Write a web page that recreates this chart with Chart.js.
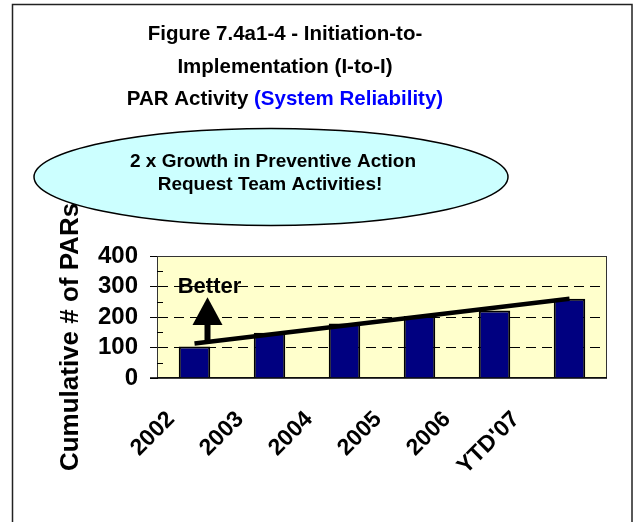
<!DOCTYPE html>
<html>
<head>
<meta charset="utf-8">
<script src="https://cdn.jsdelivr.net/npm/chart.js@4.4.0/dist/chart.umd.min.js"></script>
<style>
  body { margin: 0; background: #fff; }
  canvas { display: block; }
</style>
</head>
<body>
<canvas id="parChart" width="634" height="522"></canvas>
<script>
// data
var years = ['2002', '2003', '2004', '2005', '2006', "YTD'07"];
var parCounts = [103, 148, 179, 203, 221, 260];
var trendLine = [113, null, null, null, null, 260];
var yTicks = [0, 100, 200, 300, 400];

var titleLines = [
  [['Figure 7.4a1-4 - Initiation-to-', '#000']],
  [['Implementation (I-to-I)', '#000']],
  [['PAR Activity ', '#000'], ['(System Reliability)', '#0000ff']]
];
var calloutLines = ['2 x Growth in Preventive Action', 'Request Team Activities!'];
var yTitle = 'Cumulative # of PARs';
var betterText = 'Better';

var FONT = 'Liberation Sans, Arial, sans-serif';

// backgrounds, frames and the hand-drawn extras
var decorations = {
  id: 'decorations',
  beforeDraw: function(chart) {
    var c = chart.ctx, a = chart.chartArea;
    c.save();
    c.fillStyle = '#fff';
    c.fillRect(0, 0, chart.width, chart.height);
    c.strokeStyle = '#222';
    c.lineWidth = 1.5;
    c.strokeRect(12.5, 4.5, 619.5, 540);
    c.fillStyle = '#ffffcc';
    c.fillRect(a.left, a.top, a.right - a.left, a.bottom - a.top);

    // y axis title
    c.translate(71, 337);
    c.rotate(-Math.PI / 2);
    c.font = 'bold 26px ' + FONT;
    c.fillStyle = '#000';
    c.textAlign = 'center';
    c.textBaseline = 'middle';
    c.fillText(yTitle, 0, 0);
    c.restore();
  },
  beforeDatasetsDraw: function(chart) {
    var c = chart.ctx, a = chart.chartArea, y = chart.scales.y;
    c.save();
    c.strokeStyle = '#333';
    c.lineWidth = 1;
    c.strokeRect(a.left + 0.5, a.top + 0.5, a.right - a.left - 1, a.bottom - a.top - 1);
    // minor ticks inside the plot
    c.strokeStyle = '#000';
    for (var v = 50; v < 400; v += 100) {
      var py = Math.round(y.getPixelForValue(v)) + 0.5;
      c.beginPath();
      c.moveTo(a.left, py);
      c.lineTo(a.left + 6, py);
      c.stroke();
    }
    c.beginPath();
    c.lineWidth = 1.5;
    c.moveTo(a.left - 7, a.bottom);
    c.lineTo(a.right, a.bottom);
    c.stroke();
    c.restore();
  },
  afterDatasetsDraw: function(chart) {
    var c = chart.ctx, x = chart.scales.x, y = chart.scales.y;
    var cx = x.getPixelForValue(0) + 13;
    c.save();
    c.fillStyle = '#000';
    // arrow pointing up
    c.beginPath();
    c.moveTo(cx, y.getPixelForValue(265));
    c.lineTo(cx + 15, y.getPixelForValue(174));
    c.lineTo(cx - 15, y.getPixelForValue(174));
    c.closePath();
    c.fill();
    c.fillRect(cx - 3, y.getPixelForValue(175), 6, y.getPixelForValue(115) - y.getPixelForValue(175));
    c.font = 'bold 22px ' + FONT;
    c.textAlign = 'center';
    c.textBaseline = 'alphabetic';
    c.fillText(betterText, cx + 2, y.getPixelForValue(280));
    c.restore();
  },
  afterDraw: function(chart) {
    var c = chart.ctx;
    c.save();
    // callout ellipse
    c.beginPath();
    c.ellipse(271, 177, 237, 48.5, 0, 0, Math.PI * 2);
    c.fillStyle = '#ccffff';
    c.fill();
    c.strokeStyle = '#000';
    c.lineWidth = 1.5;
    c.stroke();
    c.fillStyle = '#000';
    c.font = 'bold 19px ' + FONT;
    c.textAlign = 'center';
    c.textBaseline = 'alphabetic';
    c.fillText(calloutLines[0], 273, 167);
    c.fillText(calloutLines[1], 270, 190);

    // title, last line has two colours
    c.font = 'bold 20.5px ' + FONT;
    c.textAlign = 'left';
    var base = [40, 72.5, 104.5];
    for (var i = 0; i < titleLines.length; i++) {
      var parts = titleLines[i], w = 0;
      for (var j = 0; j < parts.length; j++) w += c.measureText(parts[j][0]).width;
      var px = 285 - w / 2;
      for (var j = 0; j < parts.length; j++) {
        c.fillStyle = parts[j][1];
        c.fillText(parts[j][0], px, base[i]);
        px += c.measureText(parts[j][0]).width;
      }
    }
    c.restore();
  }
};

var ctx = document.getElementById('parChart').getContext('2d');
var parChart = new Chart(ctx, {
  type: 'bar',
  data: {
    labels: years,
    datasets: [{
      label: 'Cumulative PARs',
      data: parCounts,
      backgroundColor: '#000080',
      borderColor: '#000',
      borderWidth: 2,
      barPercentage: 0.42,
      categoryPercentage: 1,
      order: 1
    }, {
      type: 'line',
      label: 'Trend',
      data: trendLine,
      spanGaps: true,
      borderColor: '#000',
      borderWidth: 4.5,
      pointRadius: 0,
      fill: false,
      order: 0
    }]
  },
  options: {
    responsive: false,
    animation: false,
    layout: { padding: { top: 256, right: 27, bottom: 0, left: 0 } },
    plugins: {
      legend: { display: false },
      tooltip: { enabled: false }
    },
    scales: {
      x: { display: false },
      // label axis: Excel spaces the rotated labels a little tighter than the bars
      xLabels: {
        type: 'linear',
        position: 'bottom',
        offset: false,
        bounds: 'data',
        min: -0.203,
        max: 6.319,
        afterBuildTicks: function(s) {
          s.ticks = years.map(function(_, i) { return { value: i }; });
          s.min = -0.203;
          s.max = 6.319;
        },
        afterFit: function(s) { s.height = 144; },
        grid: { display: false, drawTicks: false },
        border: { display: false },
        ticks: {
          autoSkip: false,
          minRotation: 45,
          maxRotation: 45,
          padding: 28,
          color: '#000',
          font: { family: FONT, size: 23, weight: 'bold' },
          callback: function(v) { return years[v]; }
        }
      },
      y: {
        min: 0,
        max: 400,
        afterBuildTicks: function(s) {
          s.ticks = yTicks.map(function(v) { return { value: v }; });
        },
        afterFit: function(s) { s.width = 157; },
        grid: {
          color: function(c) {
            return (c.tick && (c.tick.value === 0 || c.tick.value === 400)) ? 'rgba(0,0,0,0)' : '#000';
          },
          tickColor: '#000',
          tickLength: 7,
          lineWidth: 1
        },
        border: { display: true, color: '#000', dash: [10, 6] },
        ticks: {
          autoSkip: false,
          padding: 12,
          color: '#000',
          font: { family: FONT, size: 24, weight: 'bold' }
        }
      }
    }
  },
  plugins: [decorations]
});
</script>
</body>
</html>
